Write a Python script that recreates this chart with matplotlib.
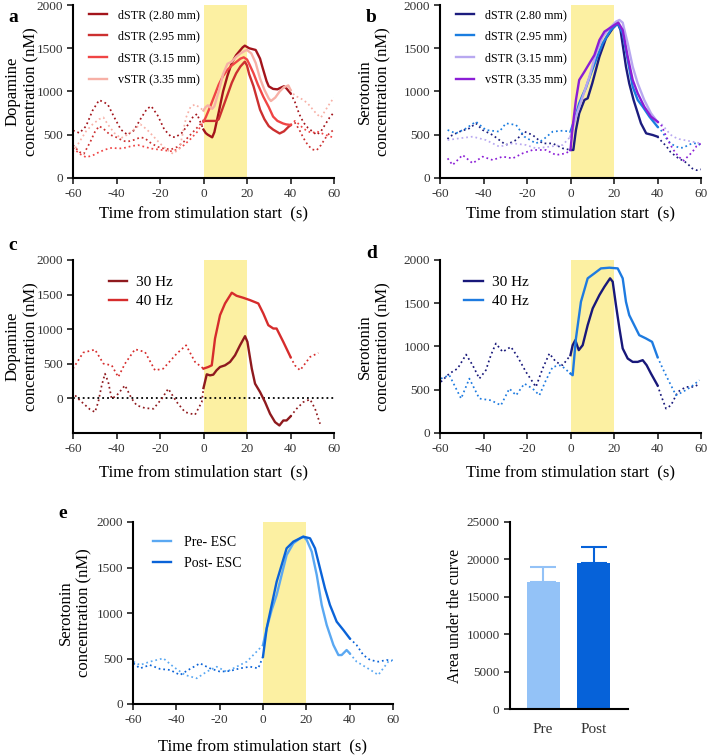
import numpy as np
from matplotlib import pyplot as plt

plt.rcParams['font.family'] = ['Liberation Serif', 'DejaVu Serif']
plt.rcParams['axes.unicode_minus'] = False
plt.rc('xtick', labelsize=9.5)
plt.rc('ytick', labelsize=9.5)
plt.rc('axes', labelsize=12, linewidth=1.5)

# ---- panel a: dopamine, depth ----
a280_t = [-60, -57, -54, -51, -48, -46, -44, -41, -38, -35, -32, -29, -26, -24, -21, -18, -15, -13, -10, -7, -5, -3, 0,
          1, 2, 4, 5, 7, 9, 11, 13, 15, 18, 19, 21, 24, 26, 27, 29, 30, 32, 34, 36, 37, 38, 40,
          42, 44, 46, 48, 50, 52, 54, 56, 58, 60]
a280_v = [550, 520, 600, 780, 900, 880, 850, 700, 560, 500, 550, 680, 800, 830, 720, 560, 480, 470, 520, 620, 700, 740, 560,
          520, 500, 470, 530, 760, 1000, 1180, 1330, 1420, 1510, 1530, 1500, 1480, 1380, 1290, 1120, 1060, 1030, 1025, 1050, 1060, 1040, 980,
          880, 740, 640, 580, 540, 500, 540, 620, 700, 760]
a295_t = [-60, -57, -55, -52, -50, -48, -46, -43, -40, -37, -35, -32, -29, -27, -24, -21, -18, -15, -12, -9, -6, -3, 0,
          3, 6, 7, 9, 11, 13, 15, 17, 19, 20, 21, 23, 26, 28, 30, 32, 35, 37, 39, 40,
          42, 44, 46, 48, 50, 52, 54, 56, 58, 60]
a295_v = [380, 300, 280, 420, 530, 600, 570, 500, 470, 430, 420, 440, 470, 460, 400, 360, 340, 330, 360, 420, 500, 580, 660,
          660, 660, 680, 820, 960, 1100, 1210, 1290, 1345, 1300, 1200, 1060, 790, 680, 600, 560, 515, 540, 590, 610,
          640, 560, 460, 380, 330, 320, 380, 460, 520, 560]
a315_t = [-60, -57, -54, -51, -48, -45, -42, -39, -36, -33, -30, -27, -24, -21, -18, -15, -12, -9, -6, -3, 0,
          1, 3, 5, 7, 9, 11, 13, 15, 17, 18.5, 20, 21, 23, 25, 27.5, 30, 32, 34, 36.6, 38, 40,
          42, 44, 46, 48, 50, 52, 54, 56, 58, 60]
a315_v = [350, 280, 240, 260, 300, 330, 350, 340, 350, 370, 380, 360, 340, 330, 320, 310, 330, 380, 450, 530, 650,
          700, 820, 950, 1080, 1180, 1250, 1300, 1340, 1380, 1395, 1370, 1320, 1210, 1080, 940, 820, 710, 660, 630, 620, 613,
          660, 620, 570, 540, 520, 540, 520, 500, 480, 470]
a335_t = [-60, -57, -54, -51, -48, -46, -44, -41, -38, -35, -32, -29, -26, -23, -20, -17, -14, -11, -8, -6, -4, -2, 0,
          1, 2, 4, 5, 7, 9, 11, 13, 15, 17, 19, 20, 22, 24, 26, 28, 30, 31, 33, 35, 37, 39, 40,
          42, 44, 46, 48, 50, 52, 54, 56, 58, 60]
a335_v = [300, 420, 540, 620, 680, 700, 620, 520, 460, 500, 560, 620, 560, 480, 400, 330, 280, 340, 700, 820, 850, 820, 780,
          820, 840, 800, 830, 1000, 1200, 1320, 1345, 1400, 1440, 1470, 1480, 1440, 1330, 1150, 1020, 920, 890, 930, 1000, 1050, 1070, 1020,
          950, 930, 900, 860, 800, 740, 700, 780, 860, 930]

# ---- panel b: serotonin, depth ----
b280_t = [-56.5, -55.7, -51, -46.5, -43.5, -40.4, -35.8, -29.7, -25, -21.2, -17.4, -12.8, -8.2, -3.6, 0,
          1.3, 2.5, 4, 6.4, 7.9, 10, 13.3, 16.3, 19.4, 21.7, 23, 25.5, 27, 29, 32.4, 34.8, 37.8, 40,
          42, 44, 46, 48, 50, 52, 54, 56, 58, 60]
b280_v = [450, 478, 536, 574, 632, 555, 497, 382, 439, 536, 497, 400, 400, 343, 324,
          324, 555, 748, 902, 921, 1094, 1403, 1615, 1730, 1788, 1711, 1287, 1094, 902, 632, 516, 497, 478,
          420, 370, 300, 260, 220, 200, 160, 110, 90, 100]
b295_t = [-56.5, -52.7, -48, -43.5, -38.9, -32.7, -29.7, -25, -21.2, -15.9, -12.8, -8.2, -3.6, 0,
          1.8, 4, 5.6, 7, 9.4, 11.7, 14.8, 18.5, 21.7, 24, 26.3, 28.6, 30.9, 33.2, 36.3, 40,
          42, 44, 46, 48, 50, 52, 54, 56, 58, 60]
b295_v = [555, 516, 574, 651, 555, 536, 632, 613, 478, 400, 439, 536, 547, 536,
          670, 863, 960, 1037, 1210, 1364, 1557, 1711, 1788, 1672, 1364, 1056, 902, 825, 709, 593,
          540, 460, 400, 370, 350, 350, 380, 400, 400, 380]
b315_t = [-56.5, -51, -45, -38.9, -32.7, -26.6, -20.5, -15.9, -9.7, -3.6, 0,
          2.5, 5.6, 8.7, 11.7, 14.8, 17.9, 20.9, 22.5, 24, 26.3, 28.6, 30.9, 33.9, 37, 39.3, 40,
          42, 44, 46, 48, 50, 52, 54, 56, 58, 60]
b315_v = [439, 459, 478, 439, 362, 401, 382, 343, 362, 382, 478,
          709, 940, 1171, 1441, 1634, 1730, 1807, 1827, 1796, 1557, 1287, 1094, 902, 748, 671, 651,
          620, 560, 500, 470, 450, 440, 430, 420, 410, 400]
b335_t = [-56.5, -54.2, -49.6, -45, -40.4, -35.8, -31.2, -26.6, -22, -17.4, -11.3, -6.7, -2.1, 0,
          1, 2.5, 4, 6.4, 8.7, 11, 13.3, 15.6, 17.9, 20.2, 22, 24, 26.3, 28.6, 30.9, 33.9, 37, 40,
          42, 44, 46, 48, 50, 52, 54, 56, 58, 60]
b335_v = [227, 150, 266, 170, 247, 208, 247, 227, 285, 324, 324, 266, 285, 324,
          593, 902, 1133, 1229, 1326, 1422, 1595, 1692, 1730, 1769, 1796, 1711, 1403, 1133, 979, 825, 709, 651,
          600, 480, 380, 300, 240, 200, 250, 300, 370, 400]

# ---- panel c: dopamine, frequency ----
c30_t = [-59, -56.8, -52.2, -49.9, -48.4, -46.8, -45.3, -43.8, -42.2, -39.9, -36.1, -33, -30.7, -26.9, -23, -19.2, -16.2, -12.3, -8.5, -3.9, -0.8, 0,
         1.5, 3, 4.5, 6, 7.6, 9.9, 12.2, 14.5, 16.8, 19.1, 20.2, 22.2, 23.7, 26, 28.3, 30.6, 32.9, 34.9, 36.7, 38.2, 40,
         42.8, 45.9, 49, 51.3, 53.6]
c30_v = [43, -29, -159, -198, -53, 188, 357, 237, -5, 43, 188, -5, -101, -140, -150, -5, 140, -53, -198, -237, -53, 150,
         348, 333, 343, 406, 454, 478, 527, 623, 768, 899, 816, 430, 213, 92, -53, -222, -343, -391, -319, -319, -261,
         -150, -53, -14, -150, -367]
c40_t = [-60, -55.3, -49.9, -46, -42.2, -39.2, -36.1, -31.5, -26.9, -22.3, -18.5, -12.3, -8, -3.9, 0,
         2.2, 3.8, 5.3, 7.6, 9.9, 13, 15.2, 18.3, 21.4, 25.2, 27.5, 29.8, 32.1, 33.6, 36.7, 40,
         42, 44.4, 46.7, 49, 52.8]
c40_v = [430, 662, 705, 502, 478, 309, 502, 710, 671, 406, 430, 647, 768, 527, 430,
         454, 478, 865, 1203, 1372, 1527, 1483, 1454, 1420, 1372, 1227, 1058, 1010, 1010, 816, 599,
         478, 406, 502, 599, 657]

# ---- panel d: serotonin, frequency ----
d30_t = [-59.6, -55.7, -51.9, -48, -45, -41.9, -38.9, -36.6, -34.3, -31.2, -27.4, -24.3, -20.5, -15.9, -12.8, -9.7, -6.7, -3.6, 0,
         1, 2.2, 3.8, 5.6, 7.9, 10.2, 13.3, 15.6, 18.2, 19.4, 20.9, 22.5, 24, 26.3, 28.6, 30.9, 33.2, 35, 37, 40,
         41.6, 43.9, 46.2, 49.3, 53.1, 56.9, 59.3]
d30_v = [591, 687, 745, 907, 784, 629, 726, 900, 1035, 938, 996, 880, 707, 533, 745, 919, 822, 784, 900,
         1015, 1073, 958, 1015, 1247, 1440, 1595, 1691, 1788, 1749, 1479, 1208, 977, 861, 822, 822, 842, 784, 687, 552,
         436, 282, 320, 475, 533, 533, 571]
d40_t = [-59.6, -55.7, -50.3, -46.5, -41.9, -36.6, -32, -28.1, -25, -21.2, -17.4, -14.3, -11.3, -8.2, -4.4, 0,
         1, 2.5, 4.8, 7.9, 11, 14, 17.9, 21.7, 24, 25.5, 27, 29.3, 31.6, 34.7, 37.5, 40,
         42.4, 45.4, 48.5, 51.6, 55.4, 59.3]
d40_v = [629, 668, 398, 629, 398, 378, 320, 513, 436, 571, 513, 436, 610, 764, 784, 687,
         668, 1093, 1517, 1788, 1846, 1903, 1911, 1903, 1788, 1517, 1363, 1247, 1131, 1093, 1054, 880,
         745, 591, 436, 475, 533, 610]

# ---- panel e: escitalopram ----
e_pre_t = [-59.8, -56.8, -52.2, -46, -41.4, -36, -30.6, -26, -21.4, -16.8, -12.2, -7.5, -3.7, 0,
           1.7, 4, 6.3, 8.6, 10.9, 14, 17.1, 18.6, 20.2, 22.5, 24.8, 27.1, 29.4, 32.5, 34.8, 36.3, 38.6, 40,
           43.2, 47.1, 50.9, 53.2, 55.5, 57.8, 60]
e_pre_v = [465, 428, 465, 502, 410, 319, 282, 355, 410, 355, 410, 465, 557, 648,
           831, 1033, 1198, 1418, 1637, 1766, 1821, 1839, 1802, 1674, 1418, 1088, 868, 648, 538, 538, 593, 557,
           465, 410, 355, 319, 392, 465, 484]
e_post_t = [-59.8, -56.8, -52.2, -47.5, -42.9, -38.3, -34.5, -29.1, -24.5, -19.8, -15.2, -10.6, -6, -2.2, 0,
            1.7, 4, 6.3, 8.6, 10.9, 14, 17.1, 18.6, 21.7, 24, 26.3, 28.6, 30.9, 34, 37.1, 40,
            43.2, 46.3, 49.4, 53.2, 57.1, 59.4]
e_post_v = [447, 392, 428, 385, 374, 319, 374, 447, 392, 355, 363, 392, 410, 392, 520,
            831, 1088, 1344, 1527, 1711, 1784, 1821, 1839, 1821, 1711, 1491, 1271, 1088, 905, 813, 722,
            648, 538, 484, 465, 484, 473]

auc_labels = ['Pre', 'Post']
auc_mean = [17000, 19500]
auc_sem = [2000, 2200]

DOTS = (0, (1, 1.7))


def trace(ax, t, v, color, label):
    t = np.asarray(t, float)
    v = np.asarray(v, float)
    pre = t <= 0
    mid = (t >= 0) & (t <= 40)
    post = t >= 40
    ax.plot(t[pre], v[pre], ls=DOTS, lw=1.25, color=color)
    ax.plot(t[post], v[post], ls=DOTS, lw=1.25, color=color)
    ax.plot(t[mid], v[mid], lw=1.7, color=color, label=label)


def style(ax, ylabel, ylim=(0, 2000), pad=4):
    ax.axvspan(0, 20, color='#fcf0a2', lw=0, zorder=0)
    ax.set_xlim(-60, 60)
    ax.set_ylim(*ylim)
    ax.set_xticks(range(-60, 61, 20))
    ax.set_yticks(range(0, 2001, 500))
    ax.spines['top'].set_visible(False)
    ax.spines['right'].set_visible(False)
    ax.tick_params(direction='out', length=4, width=1.3, colors='#333333', pad=3)
    ax.set_xlabel('Time from stimulation start  (s)', labelpad=pad)
    ax.set_ylabel(ylabel, linespacing=1.25)


fig = plt.figure(figsize=(7.08, 7.55), dpi=100)
W, H = 708, 755


def add_ax(x0, y0, x1, y1):
    return fig.add_axes([x0 / W, 1 - y1 / H, (x1 - x0) / W, (y1 - y0) / H])


ax_a = add_ax(73, 5, 334, 178)
ax_b = add_ax(440, 5, 701, 178)
ax_c = add_ax(73, 260, 334, 433)
ax_d = add_ax(440, 260, 701, 433)
ax_e = add_ax(133, 522, 393, 704)
ax_f = add_ax(510, 522, 628, 709)

dop = 'Dopamine\nconcentration (nM)'
ser = 'Serotonin\nconcentration (nM)'

trace(ax_a, a280_t, a280_v, '#a3141b', 'dSTR (2.80 mm)')
trace(ax_a, a295_t, a295_v, '#cc3030', 'dSTR (2.95 mm)')
trace(ax_a, a315_t, a315_v, '#f04545', 'dSTR (3.15 mm)')
trace(ax_a, a335_t, a335_v, '#f7b0a6', 'vSTR (3.35 mm)')
style(ax_a, dop)

trace(ax_b, b280_t, b280_v, '#1c1c7e', 'dSTR (2.80 mm)')
trace(ax_b, b295_t, b295_v, '#1a7de0', 'dSTR (2.95 mm)')
trace(ax_b, b315_t, b315_v, '#b8a8f0', 'dSTR (3.15 mm)')
trace(ax_b, b335_t, b335_v, '#8b1ed6', 'vSTR (3.35 mm)')
style(ax_b, ser)

trace(ax_c, c30_t, c30_v, '#8f1a1e', '30 Hz')
trace(ax_c, c40_t, c40_v, '#d62c2c', '40 Hz')
ax_c.axhline(0, color='black', ls=DOTS, lw=1.3, zorder=1)
style(ax_c, dop, ylim=(-500, 2000), pad=7)

trace(ax_d, d30_t, d30_v, '#18187a', '30 Hz')
trace(ax_d, d40_t, d40_v, '#1e7be0', '40 Hz')
style(ax_d, ser, pad=7)

trace(ax_e, e_pre_t, e_pre_v, '#5aa8f2', 'Pre- ESC')
trace(ax_e, e_post_t, e_post_v, '#0a63d8', 'Post- ESC')
style(ax_e, ser, pad=9)

for ax in (ax_a, ax_b):
    ax.legend(loc='upper left', bbox_to_anchor=(0.02, 1.04), frameon=False, fontsize=8.7,
              handlelength=1.5, labelspacing=0.8, handletextpad=0.9)
ax_c.legend(loc='upper left', bbox_to_anchor=(0.085, 0.99), frameon=False, fontsize=11,
            handlelength=1.2, labelspacing=0.35, handletextpad=0.6)
ax_d.legend(loc='upper left', bbox_to_anchor=(0.04, 0.99), frameon=False, fontsize=11,
            handlelength=1.2, labelspacing=0.35, handletextpad=0.6)
ax_e.legend(loc='upper left', bbox_to_anchor=(0.03, 0.99), frameon=False, fontsize=10,
            handlelength=1.3, labelspacing=0.55, handletextpad=0.9)

for ax in (ax_a, ax_c):
    ax.yaxis.set_label_coords(-0.13, 0.5)
for ax in (ax_b, ax_d):
    ax.yaxis.set_label_coords(-0.185, 0.5)
ax_e.yaxis.set_label_coords(-0.155, 0.5)

# bar panel
bar_cols = ['#93c2f7', '#0662d9']
pos = np.arange(len(auc_labels))
ax_f.bar(pos, auc_mean, width=0.65, color=bar_cols, zorder=2)
for p, m, s, c in zip(pos, auc_mean, auc_sem, bar_cols):
    ax_f.errorbar(p, m, yerr=[[0], [s]], color=c, capsize=9.5, capthick=1.5, elinewidth=1.5, zorder=1)
ax_f.set_xticks(pos)
ax_f.set_xticklabels(auc_labels, fontsize=11)
ax_f.set_xlim(-0.65, 1.67)
ax_f.set_ylim(0, 25000)
ax_f.set_yticks(range(0, 25001, 5000))
ax_f.spines['top'].set_visible(False)
ax_f.spines['right'].set_visible(False)
ax_f.tick_params(direction='out', length=4, width=1.3, colors='#333333')
ax_f.tick_params(axis='x', length=0, pad=10)
ax_f.set_ylabel('Area under the curve', fontsize=11.5)
ax_f.yaxis.set_label_coords(-0.40, 0.5)

for s, (x, y) in zip('abcde', [(8, 22), (366, 22), (8, 250), (366, 258), (58, 518)]):
    fig.text(x / W, 1 - y / H, s, fontsize=14, fontweight='bold')

fig.savefig('out.png', dpi=100)
